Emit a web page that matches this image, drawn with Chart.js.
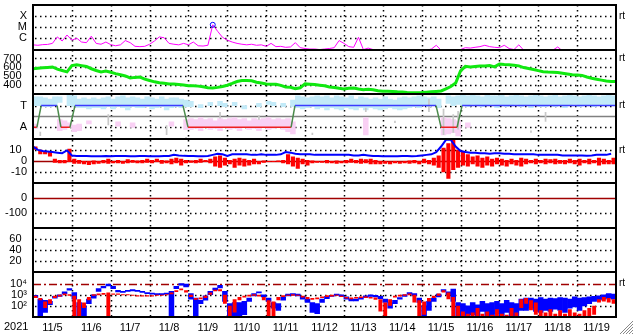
<!DOCTYPE html>
<html>
<head>
<meta charset="utf-8">
<script src="https://cdn.jsdelivr.net/npm/chart.js@4"></script>
<style>
  html, body { margin: 0; padding: 0; background: #fff; }
  canvas { display: block; }
</style>
</head>
<body>
<canvas id="c" width="633" height="334"></canvas>
<script>
// ---- data (one value per 3 hours from 11/5 00:00) ----
var DAY_LABELS = ['11/5','11/6','11/7','11/8','11/9','11/10','11/11','11/12','11/13','11/14','11/15','11/16','11/17','11/18','11/19'];
var YEAR = '2021';

// X-ray flux, units of 1e-7 W/m2
var XRAY = [
  2.2,2.0,2.3,2.4,3.0,12,5,18,6,9,
  4,3.5,14,3,2.5,4,2.3,1.8,2.2,5.5,
  3.5,1.6,1.5,1.6,2.5,5,12,10,3,2.5,
  2.2,3,2.2,4,1.8,1.7,2,160,40,11,
  6,4,3,2.5,2.2,2.5,2,2.2,1.6,3,
  1.5,1.6,1.3,1.4,3.5,1.2,1.0,0.9,0.9,0.8,
  0.9,1.0,1.2,5.5,3,1.5,1.3,11,0.8,1.1,
  0.8,0.7,0.6,0.7,0.6,0.7,0.6,0.7,0.6,0.7,
  0.6,0.7,0.9,2.0,0.7,0.6,0.6,0.7,0.8,1.2,
  1.1,1.3,1.5,2.0,1.5,1.3,1.2,2.0,1.0,0.8,
  2.2,0.7,0.6,0.6,0.7,0.6,0.6,0.7,1.4,0.6,
  0.6,0.7,0.6,0.6,0.6,0.6,0.7,0.6,0.6,0.6,
  0.6
];
var FLARE_PEAK = { day: 4.625, flux: 160 };

// solar wind speed, km/s
var SPEED = [
  585,590,595,600,605,580,565,550,620,630,
  620,610,585,565,550,560,545,530,518,504,
  482,488,492,468,453,438,428,422,413,414,
  408,402,395,393,390,382,372,368,376,386,
  400,420,442,452,452,450,434,424,414,411,
  411,398,380,378,362,372,415,411,407,400,
  393,380,375,365,357,366,368,358,350,354,
  350,338,333,333,330,326,324,318,315,316,
  318,322,327,331,336,360,385,425,560,612,
  605,610,615,615,620,606,638,632,630,624,
  617,598,587,577,564,552,548,546,542,535,
  526,517,515,510,492,479,468,457,447,443,
  441
];

// IMF sector: T = 1, A = -1
var SECTOR_DAYS = [0,0.10,0.21,0.62,0.72,0.95,1.08,3.86,3.99,6.64,6.74,10.37,10.50,10.91,11.04,15];
var SECTOR_VALS = [-1,-1,1,1,-1,-1,1,1,-1,-1,1,1,-1,-1,1,1];

// IMF angle cloud, spread per 3-hour bin (toward-like points)
var TOWARD_HI = [
  1.8,1.8,1.7,1.6,1.8,1.8,null,2.0,1.9,1.6,
  1.7,1.6,1.7,1.6,1.7,1.8,1.6,1.8,1.9,1.7,
  1.8,1.7,1.6,1.8,1.7,1.6,1.8,1.6,1.7,1.7,
  1.6,1.5,1.4,null,1.1,null,1.3,null,1.4,1.2,
  null,1.3,null,1.0,null,null,1.2,null,1.4,1.3,
  null,1.2,null,1.5,1.9,1.8,1.7,1.8,1.9,1.8,
  1.9,1.7,1.9,1.8,1.7,1.9,1.6,1.8,1.7,1.6,
  1.7,1.6,1.8,1.6,1.5,1.7,1.8,1.7,1.8,1.9,
  1.8,1.7,1.8,1.6,null,1.9,1.8,1.9,2.0,1.9,
  2.0,1.9,1.8,2.0,1.9,1.9,2.0,1.8,1.9,2.0,
  1.9,1.8,1.9,2.0,1.9,1.8,1.9,2.0,1.8,1.9,
  2.0,1.9,1.8,1.9,2.0,1.9,1.8,1.9,2.0,1.9
];
var TOWARD_LO = [
  1.0,1.0,0.9,0.9,1.0,1.3,null,1.0,0.9,0.8,
  0.8,0.7,0.8,0.8,0.7,0.9,0.7,0.9,0.8,0.6,
  0.9,0.8,0.8,0.9,0.7,0.8,0.9,0.6,0.8,0.9,
  0.8,0.9,0.9,null,0.8,null,1.0,null,1.0,0.9,
  null,1.0,null,0.7,null,null,0.9,null,1.1,1.0,
  null,0.9,null,0.9,0.8,0.7,0.8,0.9,0.7,0.8,
  0.6,0.8,0.7,0.6,0.8,0.7,0.6,0.8,0.6,0.8,
  0.7,0.6,0.7,0.8,0.7,0.6,0.7,0.8,0.9,0.8,
  1.0,0.9,1.0,0.8,null,1.2,1.0,1.1,1.0,0.9,
  1.1,1.0,0.9,1.0,1.1,0.8,1.0,0.9,1.0,1.1,
  0.9,1.0,0.8,1.0,0.9,0.9,1.0,0.9,1.0,0.8,
  1.0,1.1,0.9,1.0,1.0,0.9,1.0,1.1,1.0,1.0
];
// away-like points (bin numbers and spread)
var AWAY_BINS = [0,5,6,7,8,9,11,17,20,28,31,32,33,34,35,36,37,38,39,40,41,42,43,44,45,46,47,48,49,50,51,52,53,68,84,85,86,87,89];
var AWAY_HI = [-0.7,-0.3,-0.4,-0.6,-0.8,-0.7,-0.4,-0.5,-0.6,-0.5,-0.3,-0.2,-0.3,-0.1,-0.3,-0.2,-0.4,-0.2,-0.3,-0.2,-0.1,-0.3,-0.2,-0.4,-0.2,-0.3,-0.2,-0.1,-0.3,-0.2,-0.3,-0.2,-0.5,-0.1,-0.1,-0.2,-0.3,-0.4,-0.6];
var AWAY_LO = [-1.1,-1.3,-1.2,-1.0,-1.4,-1.3,-0.7,-0.9,-1.0,-0.9,-1.2,-1.2,-1.1,-1.3,-1.0,-1.2,-1.1,-1.3,-1.0,-1.2,-1.1,-1.3,-1.0,-1.2,-1.1,-1.3,-1.0,-1.2,-1.1,-1.0,-1.2,-1.4,-1.6,-1.7,-1.7,-1.6,-1.5,-1.8,-1.0];
// undecided points
var MIXED_BINS = [1,15,27,31,38,46,57,68,74,81,84,86,87,102,105];
var MIXED_HI = [-1.4,0.2,-0.8,-1.9,0.4,0.1,-1.5,0.8,-0.4,1.6,0.7,0.2,0.5,-1.3,0.4];
var MIXED_LO = [-1.8,-0.8,-1.7,-2.0,-0.2,-0.3,-1.7,0.4,-0.6,0.4,-1.7,-1.5,-1.2,-1.5,-0.5];

// IMF Bt (nT)
var BT = [
  13,10,9,8.5,8,7.5,7,9.5,5,4.5,
  4.5,4.5,4.3,4.3,4.2,4.5,4.3,4.5,4.5,4.5,
  4.3,4.3,4.5,4.5,4.3,4.2,4.3,4.5,4.5,5.5,
  5,4.6,4.5,4.5,4.3,4.3,4.5,5.5,6.5,6,
  4.5,6,6,6,6,5.5,5.5,6,5.5,5.5,
  5.5,6,8,7.5,6.5,6,6,6,5.5,5.5,
  5.5,5.5,5.5,5.5,5.5,5.5,5,5,5.5,5,
  4.5,4.5,4.3,4.3,4.3,4.3,4.5,4.5,4.3,4.5,
  5,5.5,6,8,13,19,19,13,9,8,
  7.5,7.5,7,7,6.5,7,7,6.5,6.5,6,
  6,6,6,6,5.5,5.5,5.5,5.5,5.5,5,
  5,5,5,5,4.8,5,5.5,5.5,5.5,6.5
];
// IMF Bz (nT), range per bin
var BZ_HI = [
  13,10,9,8,2,1,1,11,2,1,
  0,0,0.5,0,1,2,0,1,0,1.5,
  1,0.5,1,2,1,2,1,0.5,2,3,
  2,1,0.5,1,2,1,2,4,5,3,
  1,2,3,2,1,2,0,0.5,0,0,
  0.5,1,6,4,3,2,1,0.5,0,0,
  1,0,0.5,0,1,2,1,2,1.5,2,
  1,0,0,-0.5,0,-0.5,0,0.5,1,0,
  2,1,3,5,12,16,19,10,8,6,
  4,5,3,4,2,3,2,1,2,1,
  3,2,1,2,1,2,1.5,2,1,1,
  2,1,2,1,2,1,3,2,1,3
];
var BZ_LO = [
  10,6,6,4,-1.5,-2,-2,-1,-2.5,-2.5,
  -3,-3.5,-3,-2.5,-2,-2.5,-2,-2,-2.5,-2,
  -1.5,-2,-2,-1.5,-2,-1,-2.5,-2,-3,-2,
  -4,-2,-1.5,-2,-1.5,-1,-2,-5,-6,-4,
  -3,-6,-4,-5,-4,-3,-3,-1.5,-1,-1,
  -1,-2,-3,-5,-7,-3,-4,-2,-1.5,-1.5,
  -2,-2,-2.5,-2,-2,-1.5,-2,-2.5,-2,-3,
  -3,-3,-2.5,-3,-2,-2.5,-2,-2.5,-2,-3,
  -2,-3,-4,-6,-10,-16,-8,-6,-4,-5,
  -3,-5,-6,-4,-5,-3,-4,-5,-3,-4,
  -5,-3,-2,-3,-2,-3,-2,-3,-2.5,-3,
  -2,-3,-4,-2,-3,-2,-4,-3,-3,-3
];

// electron flux, log10 of flux, range per bin
var E_BLUE_HI = [
  2.95,2.6,2.5,2.4,2.85,3.0,3.25,3.55,3.2,2.3,
  2.0,2.6,3.0,3.55,3.75,3.95,3.75,3.4,3.3,3.4,
  3.45,3.4,3.3,3.2,3.15,3.1,3.1,3.15,3.3,3.75,
  4.0,3.95,3.1,2.7,2.5,2.9,3.3,3.6,3.85,3.3,
  2.2,2.3,2.3,2.4,2.7,3.1,3.25,3.0,2.7,2.3,
  2.2,2.8,3.05,3.1,3.05,2.85,2.6,2.3,2.2,2.6,
  2.85,2.95,3.05,3.0,2.8,2.6,2.6,2.75,2.9,3.0,
  2.95,2.85,2.6,2.3,2.5,2.75,3.0,3.2,3.1,2.7,
  2.0,2.4,2.7,3.05,3.45,3.25,3.5,2.3,2.2,2.0,
  2.3,2.1,2.4,2.2,2.3,2.4,2.2,2.5,2.3,2.2,
  2.6,2.7,2.7,2.6,2.75,2.6,2.7,2.65,2.75,2.7,
  2.6,2.8,2.7,2.75,2.8,2.85,2.9,3.0,3.1,3.05
];
var E_BLUE_LO = [
  2.75,1.0,1.4,2.1,2.7,2.85,3.1,3.4,2.6,1.0,
  1.0,2.2,2.7,3.3,3.6,3.8,3.55,3.25,3.2,3.3,
  3.35,3.3,3.2,3.1,3.05,3.0,3.0,3.05,1.0,3.55,
  3.85,3.7,2.6,1.0,2.2,2.5,3.0,3.4,3.6,2.4,
  1.0,1.0,1.0,1.2,2.4,2.9,3.15,2.8,2.4,1.8,
  1.6,2.5,2.9,2.95,2.9,2.6,2.3,1.4,1.3,2.3,
  2.65,2.85,2.95,2.85,2.6,2.45,2.45,2.6,2.75,2.85,
  2.8,2.65,2.3,1.8,2.2,2.6,2.85,3.05,2.9,2.3,
  1.0,1.6,2.4,2.8,3.3,3.0,2.4,1.0,1.0,1.0,
  1.2,1.0,1.5,1.0,1.0,1.3,1.0,1.4,1.0,1.0,
  1.6,1.6,1.8,1.5,1.4,1.6,1.5,1.7,1.6,1.4,
  1.8,1.9,1.6,2.0,2.2,2.4,2.5,2.6,2.7,2.6
];
var E_RED_HI = [
  2.9,2.7,2.4,2.6,2.9,3.0,3.1,3.05,2.9,2.6,
  2.3,2.8,3.05,3.1,3.15,3.2,3.1,3.1,3.05,3.05,
  3.0,2.95,2.95,2.95,2.95,3.0,3.0,3.05,3.2,3.4,
  3.55,3.4,3.0,2.7,2.75,2.9,3.2,3.45,3.5,3.0,
  2.0,2.6,2.8,2.9,3.0,3.05,3.0,2.8,2.5,2.4,
  2.8,2.95,3.0,3.05,3.0,2.9,2.8,2.7,2.75,2.85,
  2.95,3.0,3.0,2.9,2.8,2.75,2.8,2.85,2.85,2.8,
  2.75,2.6,2.3,2.6,2.9,3.0,3.05,3.1,3.0,2.5,
  2.4,2.7,2.9,3.1,3.4,3.2,2.8,2.0,1.5,1.3,
  1.4,1.8,1.3,1.5,1.2,1.7,1.3,1.2,1.8,1.4,
  2.6,2.7,2.5,2.3,1.6,1.4,1.7,1.3,1.6,1.3,
  1.7,1.4,1.3,1.6,1.8,2.0,2.6,2.8,2.7,2.6
];
var E_RED_LO = [
  2.7,2.5,1.8,2.2,2.7,2.85,2.95,2.9,1.0,1.0,
  1.8,2.5,2.9,2.95,3.0,1.0,3.0,3.0,2.95,2.95,
  2.9,2.85,2.85,2.85,2.85,2.9,2.9,2.95,3.05,3.25,
  3.4,3.2,2.8,2.55,2.6,2.7,3.0,3.3,3.3,2.2,
  1.0,1.4,2.5,2.75,2.85,2.9,2.85,2.5,1.0,1.0,
  2.5,2.8,2.9,2.9,2.9,2.75,2.6,2.55,2.6,2.7,
  2.8,2.85,2.9,2.8,2.65,2.6,2.65,2.7,2.7,2.65,
  2.55,1.5,1.0,2.0,2.75,2.85,2.9,2.95,2.3,1.0,
  1.2,2.4,2.7,2.9,3.2,2.6,1.0,1.0,1.0,1.0,
  1.0,1.0,1.0,1.0,1.0,1.0,1.0,1.0,1.0,1.0,
  1.8,2.2,1.6,1.2,1.0,1.0,1.0,1.0,1.0,1.0,
  1.0,1.0,1.0,1.0,1.0,1.2,2.3,2.4,2.3,2.2
];

// ---- helpers ----
var BIN = 1 / 8;
function series(vals, conv) {
  return vals.map(function (v, i) { return { x: i * BIN, y: v == null ? null : conv(v) }; });
}
function same(v) { return v; }
function pow10(v) { return Math.pow(10, v); }

function lineSet(data, color, width, axis, order, extra) {
  var d = { type: 'line', data: data, borderColor: color, borderWidth: width, yAxisID: axis, order: order,
            pointRadius: 0, fill: false, tension: 0, spanGaps: false };
  return Object.assign(d, extra || {});
}
// floating bars spanning the low..high range of each 3-hour bin
function bandSet(hi, lo, conv, color, axis, order, bins, width) {
  var data = [];
  hi.forEach(function (h, k) {
    if (h == null) return;
    var i = bins ? bins[k] : k;
    data.push({ x: (i + 0.5) * BIN, y: [conv(lo[k]), conv(h)] });
  });
  return { type: 'bar', data: data, backgroundColor: color, borderWidth: 0, yAxisID: axis, order: order,
           grouped: false, barPercentage: width || 1, categoryPercentage: 1 };
}

var datasets = [
  lineSet(series(XRAY, function (v) { return v * 1e-7; }), '#ff00ff', 1, 'yX', 2),
  { type: 'line', data: [{ x: FLARE_PEAK.day, y: FLARE_PEAK.flux * 1e-7 }], yAxisID: 'yX', order: 1, showLine: false,
    pointRadius: 2.5, pointBorderColor: '#0000ff', pointBackgroundColor: 'rgba(0,0,0,0)', pointBorderWidth: 1 },
  lineSet(series(SPEED, same), '#10e810', 3, 'yV', 3),
  bandSet(MIXED_HI, MIXED_LO, same, '#c8c8c8', 'yS', 6, MIXED_BINS, 0.35),
  bandSet(AWAY_HI, AWAY_LO, same, '#f9d0f4', 'yS', 7, AWAY_BINS),
  bandSet(TOWARD_HI, TOWARD_LO, same, '#c2eaf8', 'yS', 8),
  lineSet(SECTOR_DAYS.map(function (d, i) { return { x: d, y: SECTOR_VALS[i] }; }), '#3c3cff', 1.5, 'yS', 4, {
    segment: { borderColor: function (c) {
      var a = c.p0.parsed.y, b = c.p1.parsed.y;
      return a !== b ? '#4a8a4a' : (a > 0 ? '#3c3cff' : '#ee2020');
    } }
  }),
  lineSet(series(BT, same), '#0000ff', 2, 'yB', 9),
  bandSet(BZ_HI, BZ_LO, same, '#ff0000', 'yB', 10, null, 0.85),
  bandSet(E_BLUE_HI, E_BLUE_LO, pow10, '#0000ff', 'yE', 12),
  bandSet(E_RED_HI, E_RED_LO, pow10, '#ff0000', 'yE', 11, null, 0.8)
];

// ---- panels ----
var FONT = { family: 'Liberation Sans', size: 11 };
var PAD = '\u2002';
function panelAxis(type, min, max, tickVals, tickText) {
  return {
    type: type, position: 'left', stack: 'panels', stackWeight: 1, min: min, max: max,
    grid: { display: false, drawTicks: false }, border: { display: false },
    afterFit: function (s) { s.width = 33; s.paddingTop = 0; s.paddingBottom = 0; },
    afterBuildTicks: function (s) { s.ticks = tickVals.map(function (v) { return { value: v }; }); },
    ticks: { padding: 6, autoSkip: false, color: '#000', font: FONT,
             callback: function (v, i) { return tickText[i]; } }
  };
}

var GRID_DOTS = { yX: [1e-6, 1e-5, 1e-4], yV: [400, 500, 600, 700], yS: [-1, 1], yB: [-10, 10],
                  yD: [-100], yK: [20, 40, 60], yE: [1e2, 1e3] };
var REF_LINES = [
  { axis: 'yS', value: 0, color: '#808080', dash: [] },
  { axis: 'yB', value: 0, color: '#a00000', dash: [] },
  { axis: 'yD', value: 0, color: '#a00000', dash: [] },
  { axis: 'yE', value: 1e4, color: '#a00000', dash: [8, 3, 2, 3] }
];
var RT_MARKS = [['yX', 1e-4], ['yV', 700], ['yS', 1], ['yB', 10], ['yE', 1e4]];
var PANEL_IDS = ['yX', 'yV', 'yS', 'yB', 'yD', 'yK', 'yE'];

var panelClip = {
  id: 'panelClip',
  beforeDatasetDraw: function (chart, args) {
    var s = chart.scales[args.meta.yAxisID], a = chart.chartArea, ctx = chart.ctx;
    ctx.save();
    ctx.beginPath();
    ctx.rect(a.left, s.top, a.right - a.left, s.bottom - s.top);
    ctx.clip();
  },
  afterDatasetDraw: function (chart) { chart.ctx.restore(); }
};

function hline(ctx, x0, x1, y) { ctx.beginPath(); ctx.moveTo(x0, y); ctx.lineTo(x1, y); ctx.stroke(); }
function vline(ctx, x, y0, y1) { ctx.beginPath(); ctx.moveTo(x, y0); ctx.lineTo(x, y1); ctx.stroke(); }

var framePlugin = {
  id: 'frame',
  beforeDatasetsDraw: function (chart) {
    var ctx = chart.ctx, a = chart.chartArea, xs = chart.scales.x;
    ctx.save();
    ctx.strokeStyle = '#000';
    ctx.lineWidth = 1.5;
    ctx.setLineDash([1.5, 3.5]);
    for (var d = 1; d < 15; d++) {
      var x = Math.round(xs.getPixelForValue(d)) + 0.5;
      vline(ctx, x, a.top, a.bottom);
    }
    Object.keys(GRID_DOTS).forEach(function (id) {
      var s = chart.scales[id];
      GRID_DOTS[id].forEach(function (v) {
        var y = Math.round(s.getPixelForValue(v)) + 0.5;
        hline(ctx, a.left + 2, a.right, y);
      });
    });
    ctx.lineWidth = 1.5;
    REF_LINES.forEach(function (r) {
      var s = chart.scales[r.axis];
      ctx.strokeStyle = r.color;
      ctx.setLineDash(r.dash);
      hline(ctx, a.left, a.right, Math.round(s.getPixelForValue(r.value)) + 0.5);
    });
    ctx.restore();
  },
  afterDatasetsDraw: function (chart) {
    var ctx = chart.ctx, a = chart.chartArea;
    ctx.save();
    ctx.strokeStyle = '#000';
    ctx.lineWidth = 2;
    ctx.setLineDash([]);
    PANEL_IDS.forEach(function (id) {
      var s = chart.scales[id];
      hline(ctx, a.left - 1, a.right + 1, Math.round(s.top));
    });
    hline(ctx, a.left - 1, a.right + 1, Math.round(a.bottom));
    vline(ctx, a.left, a.top, a.bottom);
    vline(ctx, a.right, a.top, a.bottom);

    ctx.fillStyle = '#000';
    ctx.font = '10px "Liberation Sans"';
    ctx.textBaseline = 'middle';
    ctx.textAlign = 'left';
    RT_MARKS.forEach(function (m) {
      ctx.fillText('rt', a.right + 3, chart.scales[m[0]].getPixelForValue(m[1]));
    });

    ctx.font = '11px "Liberation Sans"';
    ctx.textAlign = 'left';
    ctx.textBaseline = 'top';
    ctx.fillText(YEAR, 4, a.bottom + 4);

    ctx.strokeStyle = '#888';
    ctx.lineWidth = 1;
    for (var k = 0; k < 5; k++) {
      var o = 3 * k;
      hatch(ctx, chart.width - 13 + o, chart.height, chart.width, chart.height - 13 + o);
    }
    ctx.restore();
  }
};
function hatch(ctx, x0, y0, x1, y1) { ctx.beginPath(); ctx.moveTo(x0, y0); ctx.lineTo(x1, y1); ctx.stroke(); }

new Chart(document.getElementById('c'), {
  type: 'line',
  data: { datasets: datasets },
  options: {
    responsive: false,
    animation: false,
    devicePixelRatio: 1,
    layout: { padding: { left: 0, right: 17, top: 2, bottom: 0 } },
    plugins: { legend: { display: false }, tooltip: { enabled: false } },
    scales: {
      x: {
        type: 'linear', position: 'bottom', min: 0, max: 15, offset: false,
        grid: { display: false, drawTicks: false, offset: false }, border: { display: false },
        afterFit: function (s) { s.height = 17; s.paddingLeft = 0; s.paddingRight = 0; },
        afterBuildTicks: function (s) { s.ticks = DAY_LABELS.map(function (_, i) { return { value: i + 0.5 }; }); },
        ticks: { padding: 4, autoSkip: false, maxRotation: 0, color: '#000', font: FONT,
                 callback: function (v, i) { return DAY_LABELS[i]; } }
      },
      // stacked panels are laid out bottom-up
      yE: panelAxis('logarithmic', 10, 1e5, [1e2, 1e3, 1e4], ['10\u00b2', '10\u00b3', '10\u2074']),
      yK: panelAxis('linear', 0, 80, [20, 40, 60], ['20' + PAD, '40' + PAD, '60' + PAD]),
      yD: panelAxis('linear', -200, 100, [-100, 0], ['-100', '0']),
      yB: panelAxis('linear', -20, 20, [-10, 0, 10], ['-10', '0', '10' + PAD]),
      yS: panelAxis('linear', -2.05, 2.05, [-1, 1], ['A', 'T']),
      yV: panelAxis('linear', 300, 800, [400, 500, 600, 700], ['400' + PAD, '500' + PAD, '600' + PAD, '700' + PAD]),
      yX: panelAxis('logarithmic', 8e-8, 1.1e-3, [1e-6, 1e-5, 1e-4], ['C', 'M', 'X'])
    }
  },
  plugins: [panelClip, framePlugin]
});
</script>
</body>
</html>
